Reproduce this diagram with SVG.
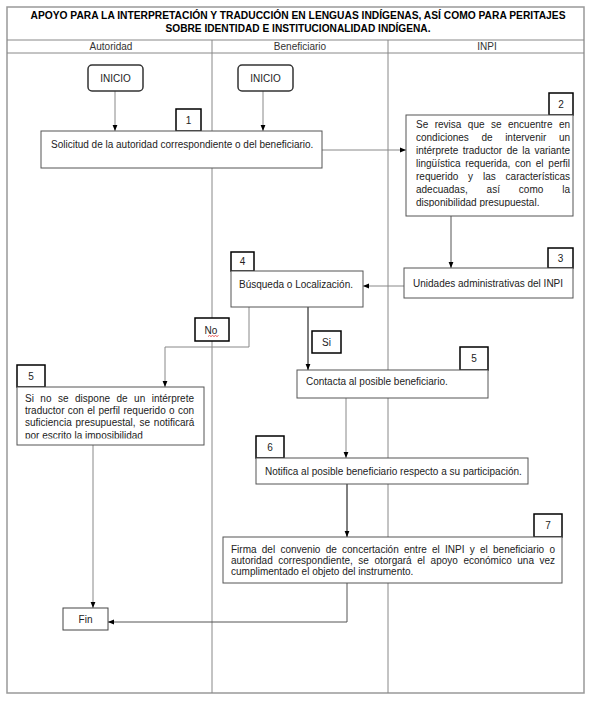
<svg xmlns="http://www.w3.org/2000/svg" width="590" height="703" viewBox="0 0 590 703">
<defs>
<style>
text{font-family:"Liberation Sans",Arial,sans-serif;font-size:10px;fill:#222}
.title{font-weight:bold;fill:#000;text-anchor:middle}
.lane{fill:#333;text-anchor:middle}
.mid{text-anchor:middle}
.frame{fill:none;stroke:#999;stroke-width:1.5}
.lline{stroke:#888;stroke-width:1;fill:none}
.box{fill:#fff;stroke:#555;stroke-width:1}
.lab{fill:#fff;stroke:#000;stroke-width:1.5}
.term{fill:#fff;stroke:#333;stroke-width:1.5}
.c{fill:none;stroke:#888;stroke-width:1;marker-end:url(#ah)}
.ck{fill:none;stroke:#000;stroke-width:1;marker-end:url(#ah)}
</style>
<marker id="ah" viewBox="0 0 10 10" refX="10" refY="5" markerWidth="6" markerHeight="6" markerUnits="userSpaceOnUse" orient="auto">
<path d="M0,1 L10,5 L0,9 z" fill="#000"/>
</marker>
<clipPath id="clip2"><rect x="406" y="115" width="167" height="92"/></clipPath>
<clipPath id="clip5a"><rect x="17" y="387" width="187" height="51.5"/></clipPath>
</defs>
<rect x="0" y="0" width="590" height="703" fill="#fff"/>
<g id="frame">
<rect class="frame" x="7" y="7" width="577" height="686"/>
<line class="lline" x1="7" y1="40" x2="584" y2="40"/>
<line class="lline" x1="7" y1="53" x2="584" y2="53"/>
<line class="lline" x1="212" y1="40" x2="212" y2="693"/>
<line class="lline" x1="388" y1="40" x2="388" y2="693"/>
<text class="title" x="298" y="19" textLength="535" lengthAdjust="spacingAndGlyphs">APOYO PARA LA INTERPRETACIÓN Y TRADUCCIÓN EN LENGUAS INDÍGENAS, ASÍ COMO PARA PERITAJES</text>
<text class="title" x="298" y="32" textLength="265" lengthAdjust="spacingAndGlyphs">SOBRE IDENTIDAD E INSTITUCIONALIDAD INDÍGENA.</text>
<text class="lane" x="111" y="50">Autoridad</text>
<text class="lane" x="300" y="50">Beneficiario</text>
<text class="lane" x="487" y="50">INPI</text>
</g>
<g id="connectors">
<path class="c" d="M115,91 V131"/>
<path class="c" d="M263,91 V131"/>
<path class="c" d="M322,150 H406"/>
<path class="c" d="M451,216 V268" style="stroke:#555"/>
<path class="c" d="M404,286 H363"/>
<path class="c" d="M249,307 V347 H165 V387"/>
<path class="ck" d="M308,307 V370"/>
<path class="c" d="M346,398 V458"/>
<path class="ck" d="M347,484 V537"/>
<path class="c" d="M347,583 V622 H108" style="stroke:#555"/>
<path class="c" d="M93,445 V608"/>
</g>
<g id="start-autoridad">
<rect class="term" x="88" y="65" width="55" height="26" rx="4"/>
<text class="mid" x="115.5" y="81.5">INICIO</text>
</g>
<g id="start-beneficiario">
<rect class="term" x="238" y="65" width="55" height="26" rx="4"/>
<text class="mid" x="265.5" y="81.5">INICIO</text>
</g>
<g id="step1">
<rect class="lab" x="176" y="109" width="25" height="22"/>
<text class="mid" x="188.5" y="123.5">1</text>
<rect class="box" x="41" y="131" width="281" height="37"/>
<text x="51" y="148">Solicitud de la autoridad correspondiente o del beneficiario.</text>
</g>
<g id="step2">
<rect class="lab" x="549" y="93" width="24" height="22"/>
<text class="mid" x="561" y="107.5">2</text>
<rect class="box" x="406" y="115" width="167" height="101"/>
<g clip-path="url(#clip2)">
<text x="416" y="128" word-spacing="3.68">Se revisa que se encuentre en</text>
<text x="416" y="141" word-spacing="9.83">condiciones de intervenir un</text>
<text x="416" y="154" word-spacing="1.68">intérprete traductor de la variante</text>
<text x="416" y="167" word-spacing="1.95">lingüística requerida, con el perfil</text>
<text x="416" y="180" word-spacing="7.07">requerido y las características</text>
<text x="416" y="193" word-spacing="16.13">adecuadas, así como la</text>
<text x="416" y="206">disponibilidad presupuestal.</text>
</g>
</g>
<g id="step3">
<rect class="lab" x="548" y="248" width="25" height="20"/>
<text class="mid" x="560.5" y="261.5">3</text>
<rect class="box" x="404" y="268" width="169" height="30"/>
<text x="413" y="287">Unidades administrativas del INPI</text>
</g>
<g id="step4">
<rect class="lab" x="231" y="252" width="23" height="19"/>
<text class="mid" x="242.5" y="265">4</text>
<rect class="box" x="231" y="271" width="132" height="36"/>
<text x="239" y="288">Búsqueda o Localización.</text>
</g>
<g id="label-no">
<rect class="lab" x="195" y="318" width="34" height="23"/>
<text class="mid" x="211" y="334">No</text>
<path d="M208,336.5 l1.5,-1 l1.5,1 l1.5,-1 l1.5,1 l1.5,-1 l1.5,1 l1.5,-1" fill="none" stroke="#e03030" stroke-width="0.8"/>
</g>
<g id="label-si">
<rect class="lab" x="312" y="331" width="29" height="22"/>
<text class="mid" x="326.5" y="346">Si</text>
</g>
<g id="step5-autoridad">
<rect class="lab" x="17" y="365" width="28" height="22"/>
<text class="mid" x="31" y="380">5</text>
<rect class="box" x="17" y="387" width="187" height="58"/>
<g clip-path="url(#clip5a)">
<text x="25" y="402" word-spacing="3.7">Si no se dispone de un intérprete</text>
<text x="25" y="414" word-spacing="0.57">traductor con el perfil requerido o con</text>
<text x="25" y="426" word-spacing="1.07">suficiencia presupuestal, se notificará</text>
<text x="25" y="439">por escrito la imposibilidad</text>
</g>
</g>
<g id="step5-beneficiario">
<rect class="lab" x="460" y="347" width="28" height="23"/>
<text class="mid" x="474" y="362">5</text>
<rect class="box" x="297" y="370" width="191" height="28"/>
<text x="306" y="385">Contacta al posible beneficiario.</text>
</g>
<g id="step6">
<rect class="lab" x="256" y="436" width="28" height="22"/>
<text class="mid" x="270" y="451">6</text>
<rect class="box" x="256" y="458" width="272" height="26"/>
<text x="265" y="475">Notifica al posible beneficiario respecto a su participación.</text>
</g>
<g id="step7">
<rect class="lab" x="534" y="514" width="28" height="23"/>
<text class="mid" x="548" y="529">7</text>
<rect class="box" x="223" y="537" width="339" height="46"/>
<text x="231" y="553" word-spacing="2.47">Firma del convenio de concertación entre el INPI y el beneficiario o</text>
<text x="231" y="564" word-spacing="2.78">autoridad correspondiente, se otorgará el apoyo económico una vez</text>
<text x="231" y="575">cumplimentado el objeto del instrumento.</text>
</g>
<g id="end">
<rect class="box" x="63" y="608" width="45" height="22" style="stroke:#444"/>
<text class="mid" x="85.5" y="623">Fin</text>
</g>
</svg>
